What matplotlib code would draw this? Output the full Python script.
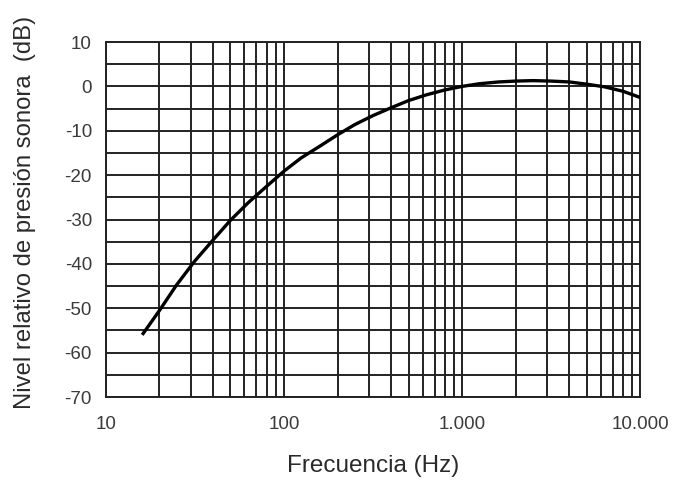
import matplotlib
matplotlib.use("Agg")
import matplotlib.pyplot as plt
from matplotlib.ticker import FixedLocator, NullFormatter

# A-weighting curve values
freqs = [16, 20, 25, 31.5, 40, 50, 63, 80, 100, 125, 160, 200, 250, 315, 400,
         500, 630, 800, 1000, 1250, 1600, 2000, 2500, 3150, 4000, 5000, 6300,
         8000, 10000]
levels = [-56.0, -50.5, -44.7, -39.4, -34.6, -30.2, -26.2, -22.5, -19.1, -16.1,
          -13.4, -10.9, -8.6, -6.6, -4.8, -3.2, -1.9, -0.8, 0.0, 0.6, 1.0, 1.2,
          1.3, 1.2, 1.0, 0.5, -0.1, -1.1, -2.5]

x_ticks = [10, 100, 1000, 10000]
x_labels = ["10", "100", "1.000", "10.000"]
y_ticks = [10, 0, -10, -20, -30, -40, -50, -60, -70]

plt.rcParams['font.family'] = ['Liberation Sans', 'DejaVu Sans']
plt.rcParams['axes.unicode_minus'] = False

fig = plt.figure(figsize=(6.74, 4.83), dpi=100)
ax = fig.add_axes([0.157, 0.178, 0.793, 0.735])

ax.plot(freqs, levels, color='black', lw=2.4, solid_capstyle='butt', zorder=3)

ax.set_xscale('log')
ax.set_xlim(10, 10000)
ax.set_ylim(-70, 10)

minor = [m * d for d in (10, 100, 1000) for m in range(2, 10)]
ax.xaxis.set_major_locator(FixedLocator(x_ticks))
ax.xaxis.set_minor_locator(FixedLocator(minor))
ax.xaxis.set_minor_formatter(NullFormatter())
ax.set_xticklabels(x_labels)
ax.set_yticks(y_ticks)
ax.set_yticks(range(-65, 10, 10), minor=True)

ax.grid(True, which='both', color='#222222', lw=1.4)
ax.tick_params(which='both', length=0, labelsize=13.5, colors='#3a3a3a')
ax.tick_params(axis='y', pad=10)
ax.tick_params(axis='x', pad=14)
for s in ax.spines.values():
    s.set_color('#222222')
    s.set_linewidth(1.4)

ax.set_xlabel('Frecuencia (Hz)', fontsize=17.5, color='#2a2a2a', va='center')
ax.xaxis.set_label_coords(0.5, -0.195)
ax.set_ylabel('Nivel relativo de presión sonora  (dB)', fontsize=17.2,
              color='#2a2a2a', va='center')
ax.yaxis.set_label_coords(-0.152, 0.52)

fig.savefig('out.png', dpi=100)
